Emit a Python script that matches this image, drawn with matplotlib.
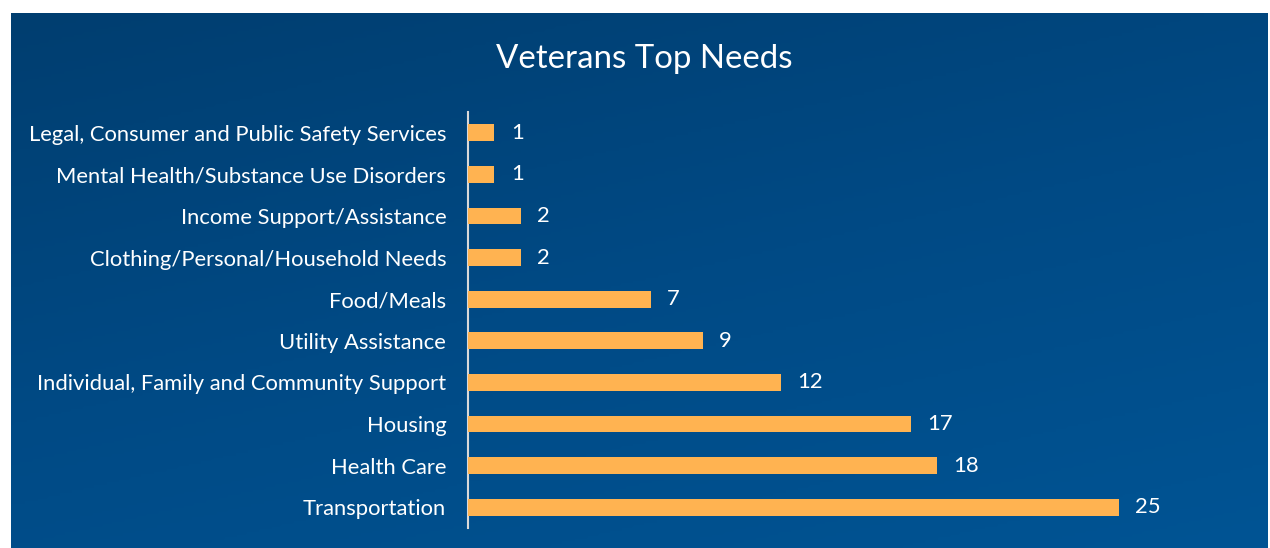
import numpy as np
import matplotlib.pyplot as plt
from matplotlib.colors import LinearSegmentedColormap

categories = [
    "Transportation",
    "Health Care",
    "Housing",
    "Individual, Family and Community Support",
    "Utility Assistance",
    "Food/Meals",
    "Clothing/Personal/Household Needs",
    "Income Support/Assistance",
    "Mental Health/Substance Use Disorders",
    "Legal, Consumer and Public Safety Services",
]
values = [25, 18, 17, 12, 9, 7, 2, 2, 1, 1]

W, H = 1270, 548
fig = plt.figure(figsize=(W / 100, H / 100), dpi=100, facecolor="white")
plt.rcParams["font.family"] = ["Lato", "DejaVu Sans"]

# blue gradient panel, darker top-left, lighter bottom-right
bg = fig.add_axes([11 / W, 0, 1257 / W, 535 / H])
bg.set_axis_off()
yy, xx = np.mgrid[0:1:200j, 0:1:400j]
grad = xx * 0.35 + yy * 0.65
cmap = LinearSegmentedColormap.from_list("bg", ["#003E70", "#004A85", "#005494"])
bg.imshow(grad, cmap=cmap, aspect="auto", extent=[0, 1, 0, 1], origin="upper")

ax = fig.add_axes([468.5 / W, 20 / H, 780 / W, 416 / H])
ax.patch.set_alpha(0)
y = np.arange(len(categories))
ax.barh(y, values, height=0.4, color="#FFB351", zorder=3)
ax.set_ylim(-0.5, len(categories) - 0.5)
ax.set_xlim(0, 30)
ax.set_yticks(y)
ax.set_yticklabels(categories, color="white", fontsize=15.8)
ax.tick_params(axis="y", length=0, pad=16)
ax.set_xticks([])
for s in ["top", "right", "bottom"]:
    ax.spines[s].set_visible(False)
ax.spines["left"].set_color("#D9D9D9")
ax.spines["left"].set_linewidth(1.5)

for yi, v in zip(y, values):
    ax.annotate(str(v), (v, yi), xytext=(12, 0), textcoords="offset points",
                va="center", ha="left", color="white", fontsize=15.8)

fig.text(644 / W, 1 - 59 / H, "Veterans Top Needs", ha="center", va="center",
         color="white", fontsize=23.8)

fig.savefig("out.png", dpi=100, facecolor="white")
